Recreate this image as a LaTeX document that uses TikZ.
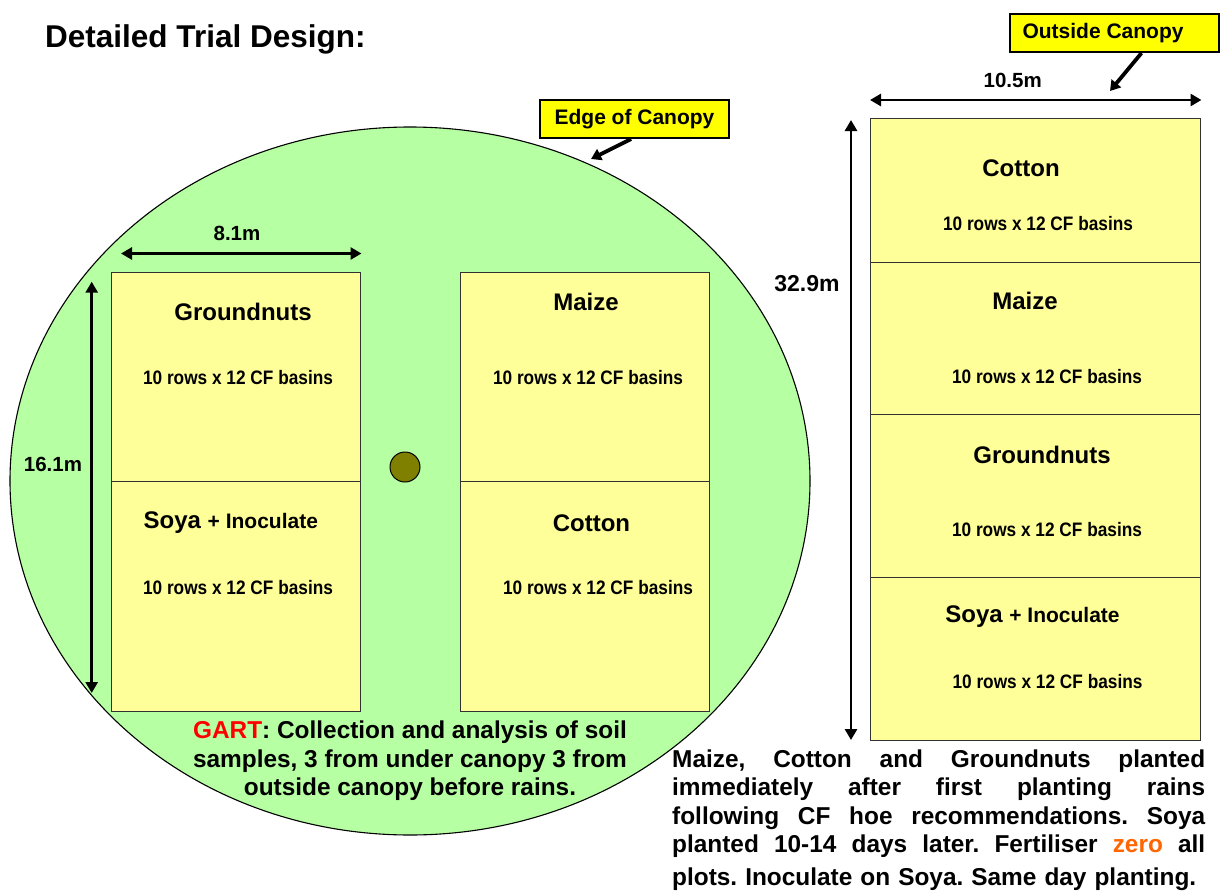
\documentclass[tikz,border=0pt]{standalone}
\usepackage{fontspec}
\setmainfont{Liberation Sans}
\newfontfamily\narrowf[FakeStretch=0.885]{Liberation Sans}
\usetikzlibrary{arrows.meta}
\definecolor{canopy}{RGB}{183,255,163}
\definecolor{plotfill}{RGB}{255,255,153}
\definecolor{calloutfill}{RGB}{255,255,0}
\definecolor{treefill}{RGB}{128,128,0}
\definecolor{gartred}{RGB}{255,0,0}
\definecolor{zeroorange}{RGB}{255,102,0}
\definecolor{plotedge}{RGB}{50,50,50}
\frenchspacing
\begin{document}
\frenchspacing
\begin{tikzpicture}[x=1pt,y=-1pt,
  plotbox/.style={draw=plotedge, fill=plotfill, line width=0.9pt, inner sep=0pt},
  divider/.style={draw=plotedge, line width=0.9pt},
  calloutbox/.style={draw=black, fill=calloutfill, line width=2pt, inner sep=0pt,
    minimum height=38pt, font=\bfseries\fontsize{21}{24}\selectfont},
  dimarrow/.style={line width=2.9pt, {Triangle[length=11pt,width=12pt]}-{Triangle[length=11pt,width=12pt]}},
  ptr/.style={line width=3.8pt, -{Triangle[length=10pt,width=12pt]}},
  crop/.style={font=\bfseries\fontsize{24}{28}\selectfont, inner sep=0pt},
  basins/.style={font=\narrowf\bfseries\fontsize{19.5}{22}\selectfont, inner sep=0pt},
  dimlabel/.style={font=\bfseries\fontsize{20.5}{24}\selectfont, inner sep=0pt},
  bodytext/.style={font=\bfseries\fontsize{24.4}{28.7}\selectfont, inner sep=0pt},
]
\useasboundingbox (0,0) rectangle (1221,894);
\fill[white] (0,0) rectangle (1221,894);

% title
\node[anchor=west, inner sep=0pt, font=\bfseries\fontsize{31.5}{35}\selectfont] (title) at (45,39) {Detailed Trial Design:};

% canopy
\draw[fill=canopy, line width=1.1pt] (410,481) ellipse [x radius=400, y radius=354];
\coordinate (edgetip) at (591,159);

% tree
\node[circle, draw=black, line width=1pt, fill=treefill, minimum size=30pt, inner sep=0pt] (tree) at (405,467) {};

% left pair of plots
\node[plotbox, anchor=north west, minimum width=249.5pt, minimum height=439pt] (LP) at (110.5,272) {};
\draw[divider] (110.5,481.5) -- (360,481.5);
\node[plotbox, anchor=north west, minimum width=249.5pt, minimum height=439pt] (RP) at (459.8,272) {};
\draw[divider] (459.8,481.5) -- (709.3,481.5);

\node[crop] (lg) at (243,312) {Groundnuts};
\node[basins] (lgb) at (238,378) {10 rows x 12 CF basins};
\node[crop, anchor=west] (ls) at (143.5,523) {Soya {\fontsize{21}{24}\selectfont + Inoculate}};
\node[basins] (lsb) at (238,588) {10 rows x 12 CF basins};
\node[crop] (rm) at (586,302) {Maize};
\node[basins] (rmb) at (588,378) {10 rows x 12 CF basins};
\node[crop] (rc) at (591.5,523) {Cotton};
\node[basins] (rcb) at (598,588) {10 rows x 12 CF basins};

% dimensions of circle plots
\coordinate (w1) at (121,253.5);
\coordinate (w2) at (361.5,253.5);
\draw[dimarrow] (w1) -- (w2);
\node[dimlabel] (w81) at (237,233) {8.1m};
\coordinate (h1) at (91.7,281.7);
\coordinate (h2) at (91.7,693);
\draw[dimarrow] (h1) -- (h2);
\node[dimlabel] (h161) at (53,464) {16.1m};

% callout edge of canopy
\node[calloutbox, minimum width=189pt] (edge) at (634.5,119) {Edge of Canopy};
\draw[ptr] ([xshift=-3.5pt]edge.south) -- (edgetip);

% GART text
\node[bodytext, align=center] (gart) at (410,760.7) {\textcolor{gartred}{GART}: Collection and analysis of soil\\samples, 3 from under canopy 3 from\\outside canopy before rains.};

% outside canopy column
\node[plotbox, anchor=north west, minimum width=330.5pt, minimum height=622pt] (OC) at (869.5,118) {};
\draw[divider] (869.5,262) -- (1200,262);
\draw[divider] (869.5,414) -- (1200,414);
\draw[divider] (869.5,577) -- (1200,577);

\node[crop] (oc1) at (1021,168) {Cotton};
\node[basins] (oc1b) at (1038,224) {10 rows x 12 CF basins};
\node[crop] (oc2) at (1025,301) {Maize};
\node[basins] (oc2b) at (1047,377) {10 rows x 12 CF basins};
\node[crop] (oc3) at (1042,455) {Groundnuts};
\node[basins] (oc3b) at (1047,530) {10 rows x 12 CF basins};
\node[crop] (oc4) at (1032.5,617) {Soya {\fontsize{21}{24}\selectfont + Inoculate}};
\node[basins] (oc4b) at (1047.5,682) {10 rows x 12 CF basins};

\coordinate (w3) at (870,100);
\coordinate (w4) at (1201.5,100);
\draw[dimarrow] (w3) -- (w4);
\node[dimlabel] (w105) at (1012.7,80) {10.5m};
\coordinate (h3) at (851,120);
\coordinate (h4) at (851,740);
\draw[dimarrow] (h3) -- (h4);
\node[dimlabel, font=\bfseries\fontsize{23}{26}\selectfont] (h329) at (807,284) {32.9m};

% callout outside canopy
\node[calloutbox, minimum width=209pt] (outside) at (1114.5,33) {\makebox[209pt][l]{\hspace{12.5pt}Outside Canopy}};
\coordinate (outtip) at (1110,91);
\draw[ptr] ([xshift=27pt]outside.south) -- (outtip);

% planting notes
\node[bodytext, anchor=west] (n1) at (672,761) {\makebox[533pt][s]{Maize, Cotton and Groundnuts planted}};
\node[bodytext, anchor=west] (n2) at (672,789.5) {\makebox[533pt][s]{immediately after first planting rains}};
\node[bodytext, anchor=west] (n3) at (672,818) {\makebox[533pt][s]{following CF hoe recommendations. Soya}};
\node[bodytext, anchor=west] (n4) at (672,846.5) {\makebox[533pt][s]{planted 10-14 days later. Fertiliser \textcolor{zeroorange}{zero} all}};
\node[bodytext, anchor=west] (n5) at (672,879.5) {\makebox[524pt][s]{plots. Inoculate on Soya. Same day planting.}};
\end{tikzpicture}
\end{document}
